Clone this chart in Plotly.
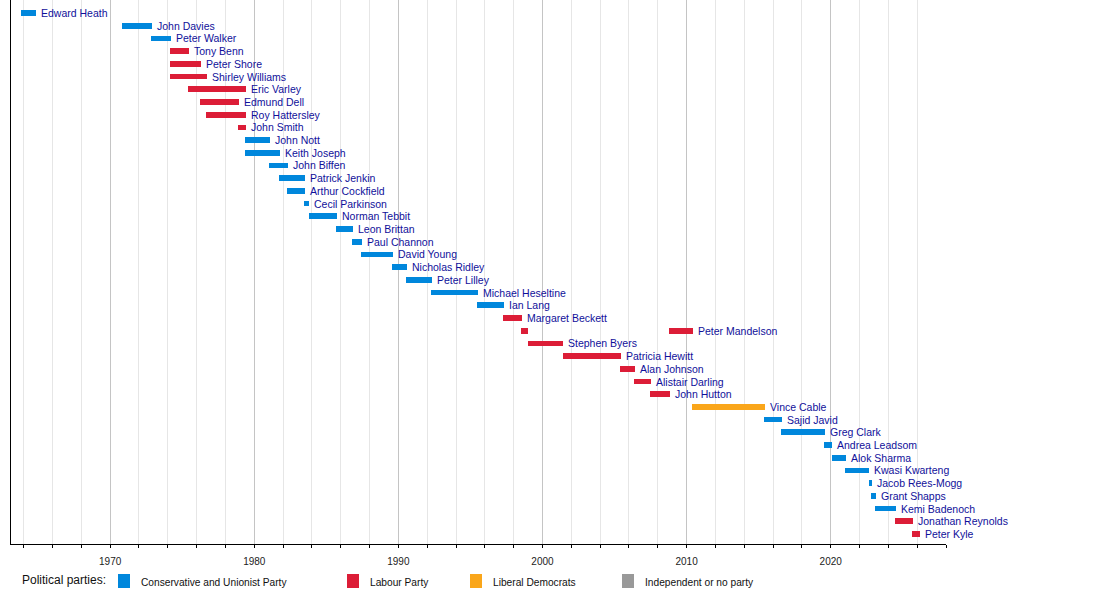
import plotly.graph_objects as go

# Office holders in chronological order (a name may appear more than once)
names = ["Edward Heath", "John Davies", "Peter Walker", "Tony Benn", "Peter Shore",
         "Shirley Williams", "Eric Varley", "Edmund Dell", "Roy Hattersley", "John Smith",
         "John Nott", "Keith Joseph", "John Biffen", "Patrick Jenkin", "Arthur Cockfield",
         "Cecil Parkinson", "Norman Tebbit", "Leon Brittan", "Paul Channon", "David Young",
         "Nicholas Ridley", "Peter Lilley", "Michael Heseltine", "Ian Lang", "Margaret Beckett",
         "Peter Mandelson", "Stephen Byers", "Patricia Hewitt", "Alan Johnson", "Alistair Darling",
         "John Hutton", "Peter Mandelson", "Vince Cable", "Sajid Javid", "Greg Clark",
         "Andrea Leadsom", "Alok Sharma", "Kwasi Kwarteng", "Jacob Rees-Mogg", "Grant Shapps",
         "Kemi Badenoch", "Jonathan Reynolds", "Peter Kyle"]

starts = [1963.80, 1970.83, 1972.85, 1974.17, 1974.17,
          1974.17, 1975.40, 1976.25, 1976.67, 1978.90,
          1979.37, 1979.37, 1981.04, 1981.70, 1982.30,
          1983.47, 1983.80, 1985.67, 1986.80, 1987.44,
          1989.56, 1990.53, 1992.27, 1995.47, 1997.27,
          1998.50, 1998.96, 2001.39, 2005.35, 2006.32,
          2007.43, 2008.77, 2010.35, 2015.35, 2016.53,
          2019.51, 2020.07, 2020.97, 2022.64, 2022.78,
          2023.06, 2024.44, 2025.62]

ends = [1964.86, 1972.90, 1974.20, 1975.50, 1976.30,
        1976.70, 1979.40, 1978.96, 1979.40, 1979.40,
        1981.10, 1981.80, 1982.36, 1983.50, 1983.50,
        1983.80, 1985.72, 1986.85, 1987.50, 1989.60,
        1990.60, 1992.30, 1995.50, 1997.34, 1998.60,
        1999.00, 2001.43, 2005.42, 2006.39, 2007.50,
        2008.82, 2010.42, 2015.42, 2016.60, 2019.58,
        2020.12, 2021.04, 2022.69, 2022.85, 2023.13,
        2024.51, 2025.69, 2026.20]

parties = ["Con", "Con", "Con", "Lab", "Lab",
           "Lab", "Lab", "Lab", "Lab", "Lab",
           "Con", "Con", "Con", "Con", "Con",
           "Con", "Con", "Con", "Con", "Con",
           "Con", "Con", "Con", "Con", "Lab",
           "Lab", "Lab", "Lab", "Lab", "Lab",
           "Lab", "Lab", "LD", "Con", "Con",
           "Con", "Con", "Con", "Con", "Con",
           "Con", "Lab", "Lab"]

party_keys = ["Con", "Lab", "LD", "Ind"]
party_labels = ["Conservative and Unionist Party", "Labour Party", "Liberal Democrats",
                "Independent or no party"]
party_colors = ["#0087DC", "#DC1D37", "#FAA61A", "#999999"]

# one row per person, in order of first appearance
rows = []
for n in names:
    if n not in rows:
        rows.append(n)
row_of = [rows.index(n) for n in names]

fig = go.Figure()

for key, label, color in zip(party_keys, party_labels, party_colors):
    idx = [i for i, p in enumerate(parties) if p == key]
    if not idx:
        continue
    fig.add_trace(go.Bar(
        y=[row_of[i] for i in idx],
        base=[starts[i] for i in idx],
        x=[ends[i] - starts[i] for i in idx],
        orientation="h",
        width=0.45,
        marker=dict(color=color, line=dict(width=0)),
        name=label,
        showlegend=False,
        hovertext=[names[i] for i in idx],
    ))

# name label next to the last term of each person
for n in rows:
    last = max(i for i, m in enumerate(names) if m == n)
    fig.add_annotation(x=ends[last], y=row_of[last], text=n, showarrow=False,
                       xanchor="left", yanchor="middle", xshift=3,
                       font=dict(family="Liberation Sans, Arial", size=10.5, color="#10109a"))

# plot area in pixels: x 11..946, y 0..544
PL, PR, PB = 11, 946, 544


def px_x(p):
    return (p - PL) / (PR - PL)


def px_y(p):
    return (PB - p) / PB


# manual legend along the bottom
fig.add_annotation(x=px_x(20), y=px_y(580), xref="paper", yref="paper", text="Political parties:",
                   showarrow=False, xanchor="left", yanchor="middle",
                   font=dict(family="Liberation Sans, Arial", size=12, color="#111"))
legend_x = [118, 347, 470, 622]
for lx, label, color in zip(legend_x, party_labels, party_colors):
    fig.add_shape(type="rect", xref="paper", yref="paper",
                  x0=px_x(lx), x1=px_x(lx + 12), y0=px_y(588), y1=px_y(574),
                  fillcolor=color, line=dict(width=0))
    fig.add_annotation(x=px_x(lx + 21), y=px_y(582), xref="paper", yref="paper", text=label,
                       showarrow=False, xanchor="left", yanchor="middle",
                       font=dict(family="Liberation Sans, Arial", size=10.2, color="#111"))

n_rows = len(rows)
step = 12.707
fig.update_layout(
    width=1100, height=593,
    margin=dict(l=PL, r=1100 - PR, t=0, b=593 - PB),
    plot_bgcolor="white", paper_bgcolor="white",
    barmode="overlay",
    bargap=0,
    xaxis=dict(range=[1963.12, 2028.0], dtick=10, tick0=1970, showgrid=True,
               gridcolor="#c4c4c4", gridwidth=1, zeroline=False,
               showline=True, linecolor="black", linewidth=1,
               ticks="outside", ticklen=3, tickcolor="black", ticklabelstandoff=5,
               tickfont=dict(family="Liberation Sans, Arial", size=10, color="#222"),
               minor=dict(dtick=2, tick0=1964, showgrid=True, gridcolor="#e6e6e6",
                          ticks="outside", ticklen=3, tickcolor="black")),
    yaxis=dict(range=[n_rows - 1 + 10 / step, -13 / step], showgrid=False, zeroline=False,
               showticklabels=False, showline=True, linecolor="black", linewidth=1),
)

# page has a default body margin, drop it so the chart sits at the window corner
fig.write_html("out.html", config={"displayModeBar": False},
               post_script="document.body.style.margin='0';")
